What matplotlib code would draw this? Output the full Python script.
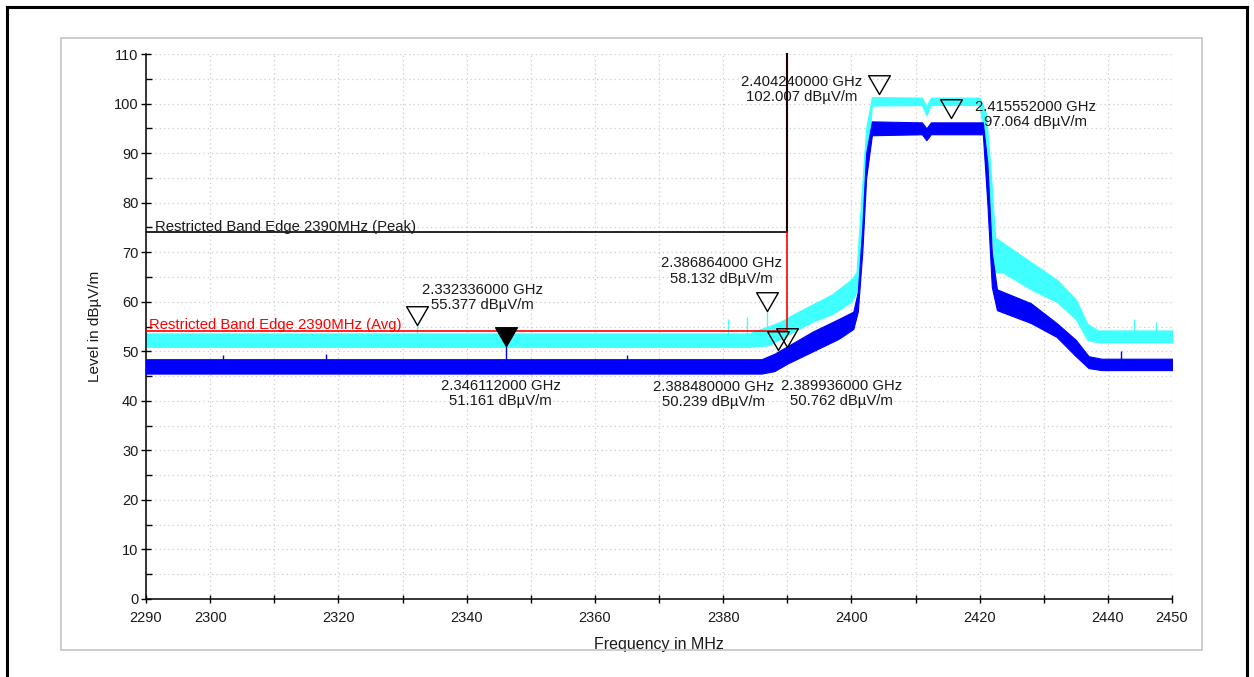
import numpy as np
import matplotlib.pyplot as plt
from matplotlib.path import Path
from matplotlib.patches import Rectangle
from matplotlib.lines import Line2D

plt.rcParams['font.family'] = ['Liberation Sans', 'DejaVu Sans']

# peak trace (cyan): frequency in MHz, lower / upper edge of the noise band in dBuV/m
peak_freq = [2290, 2384, 2387, 2389, 2391, 2394, 2397, 2400, 2400.8, 2401.5, 2402.3, 2403.2,
             2411.0, 2411.7, 2412.4, 2420.0, 2421.0, 2421.8, 2422.4, 2423.5, 2428, 2432,
             2435, 2436.8, 2438.5, 2450]
peak_low = [50.9, 50.9, 51.2, 52.5, 54.0, 56.0, 57.5, 60.0, 62.0, 70.0, 85.0, 99.6,
            99.7, 97.6, 99.7, 99.7, 90.0, 75.0, 66.0, 66.0, 62.5, 60.0,
            56.5, 52.3, 51.8, 51.8]
peak_high = [53.6, 53.6, 55.0, 56.0, 57.5, 59.5, 61.5, 64.5, 66.0, 80.0, 95.0, 101.3,
             101.2, 99.4, 101.2, 101.2, 98.0, 85.0, 73.0, 72.0, 68.0, 64.5,
             60.5, 55.5, 54.2, 54.2]

# average trace (blue)
avg_freq = [2290, 2386, 2388, 2390, 2394, 2398, 2400.3, 2401.0, 2401.7, 2402.3, 2403.2,
            2411.0, 2411.7, 2412.4, 2420.5, 2421.2, 2421.9, 2422.7, 2428, 2432, 2435,
            2437, 2439, 2450]
avg_low = [45.5, 45.5, 46.0, 47.5, 50.0, 52.5, 54.5, 58.0, 70.0, 85.0, 93.6,
           93.8, 92.6, 93.8, 93.8, 80.0, 63.0, 58.3, 55.7, 52.9, 49.0,
           46.6, 46.2, 46.2]
avg_high = [48.4, 48.4, 49.5, 51.0, 54.0, 56.5, 58.0, 62.0, 75.0, 90.0, 96.4,
            96.2, 95.0, 96.2, 96.2, 88.0, 70.0, 62.5, 59.7, 55.7, 52.3,
            49.0, 48.5, 48.5]

# single spikes above the bands
peak_spike_freq = [2332.336, 2380.8, 2383.7, 2386.864, 2444.0, 2447.5]
peak_spike_level = [55.377, 56.5, 57.0, 58.132, 56.5, 56.0]
avg_spike_freq = [2346.112, 2318.0, 2302.0, 2365.0, 2442.0]
avg_spike_level = [51.161, 49.5, 49.3, 49.2, 50.0]

# limits
band_edge = 2390
peak_limit = 74
avg_limit = 54

# markers
marker_freq = [2404.240, 2415.552, 2332.336, 2346.112, 2386.864, 2388.480, 2389.936]
marker_level = [102.007, 97.064, 55.377, 51.161, 58.132, 50.239, 50.762]
marker_filled = [False, False, False, True, False, False, False]

xticks = list(range(2290, 2451, 10))
xtick_labels = ['2290', '2300', '', '2320', '', '2340', '', '2360', '', '2380', '',
                '2400', '', '2420', '', '2440', '2450']

W, H = 1254, 677
fig = plt.figure(figsize=(W / 100, H / 100), dpi=100)
ax = fig.add_axes([146 / W, 78 / H, 1026 / W, 545 / H])

# frames around the plot
fig.add_artist(Rectangle((60.7 / W, 27 / H), 1141 / W, 612.3 / H, transform=fig.transFigure,
                         fill=False, edgecolor='#c4c4c4', lw=1.2))
for xs, ys in [([7, 7], [0, 670]), ([7, 1247], [670, 670]), ([1247, 1247], [670, 0])]:
    fig.add_artist(Line2D([x / W for x in xs], [y / H for y in ys], transform=fig.transFigure,
                          color='black', lw=2.2))

ax.fill_between(peak_freq, peak_low, peak_high, color='#40ffff', lw=0.8, zorder=2)
ax.vlines(peak_spike_freq, 53, peak_spike_level, color='#40ffff', lw=1.0, zorder=2)
ax.fill_between(avg_freq, avg_low, avg_high, color='#0000ff', lw=0.8, zorder=3)
ax.vlines(avg_spike_freq, 47, avg_spike_level, color='#0000ff', lw=1.0, zorder=3)

# limit lines
ax.plot([2290, band_edge], [peak_limit, peak_limit], color='black', lw=1.2, zorder=4)
ax.plot([band_edge, band_edge], [peak_limit, 110], color='#1a0000', lw=1.5, zorder=4, clip_on=False)
ax.plot([2290, band_edge, band_edge], [avg_limit, avg_limit, peak_limit], color='#ff0000',
        lw=1.2, zorder=4)
ax.text(2291.4, peak_limit + 0.35, 'Restricted Band Edge 2390MHz (Peak)', fontsize=10.7,
        color='#1a1a1a', va='baseline', zorder=5)
ax.text(2290.5, avg_limit + 0.45, 'Restricted Band Edge 2390MHz (Avg)', fontsize=10.7,
        color='#ff0000', va='baseline', zorder=5)

# marker triangles (tip on the value) and readouts
tri = Path([(-0.58, 1.0), (0.58, 1.0), (0.0, 0.0), (-0.58, 1.0)],
           [Path.MOVETO, Path.LINETO, Path.LINETO, Path.CLOSEPOLY])
label_offsets = [(-77, 4), (84, 4), (65, 27), (-5, -48), (-46, 40), (-64, -44), (55, -46)]
for f, v, filled, off in zip(marker_freq, marker_level, marker_filled, label_offsets):
    ax.plot([f], [v], ls='none', marker=tri, ms=27, mew=1.0, mec='black',
            mfc='black' if filled else 'none', zorder=6, clip_on=False)
    ax.annotate('%.9f GHz\n%.3f dBµV/m' % (f / 1000, v), (f, v), xytext=off,
                textcoords='offset pixels', ha='center', va='center', ma='center',
                fontsize=10.7, color='#1a1a1a', linespacing=1.1, zorder=7)

ax.set_xlim(2290, 2450)
ax.set_ylim(0, 110)
ax.set_xticks(xticks)
ax.set_xticklabels(xtick_labels)
ax.set_yticks(range(0, 111, 10))
ax.set_yticks(range(5, 110, 10), minor=True)
ax.grid(which='major', color='#cccccc', ls=(0, (1, 2.5)), lw=0.9)
ax.grid(which='minor', axis='y', color='#cccccc', ls=(0, (1, 2.5)), lw=0.9)
ax.set_axisbelow(True)
for s in ['top', 'right']:
    ax.spines[s].set_visible(False)
for s in ['left', 'bottom']:
    ax.spines[s].set_linewidth(1.1)
ax.tick_params(axis='x', direction='inout', length=6, width=1, pad=5.5, labelsize=10.5,
               labelcolor='#1a1a1a')
ax.tick_params(axis='y', which='major', direction='inout', length=7, width=1, pad=2,
               labelsize=10.5, labelcolor='#1a1a1a')
ax.tick_params(axis='y', which='minor', direction='in', length=4.5, width=1)

ax.set_xlabel('Frequency in MHz', fontsize=11.5, color='#1a1a1a', va='center')
ax.xaxis.set_label_coords(0.5, -0.083)
ax.set_ylabel('Level in dBµV/m', fontsize=11, color='#1a1a1a')
ax.yaxis.set_label_coords(-0.0424, 0.5)

fig.savefig('out.png', dpi=100)
